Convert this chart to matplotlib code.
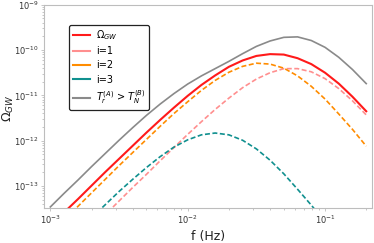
import numpy as np
import matplotlib
matplotlib.use("Agg")
import matplotlib.pyplot as plt
from matplotlib.lines import Line2D
from matplotlib.ticker import NullFormatter

# log10 frequency grid (Hz)
log_f = [-3.0, -2.9, -2.8, -2.7, -2.6, -2.5, -2.4, -2.3, -2.2, -2.1, -2.0, -1.9,
         -1.8, -1.7, -1.6, -1.5, -1.4, -1.3, -1.2, -1.1, -1.0, -0.9, -0.8, -0.7]

# log10 Omega_GW values
log_total = [-13.88, -13.58, -13.29, -12.99, -12.69, -12.40, -12.11, -11.82, -11.54, -11.27,
             -11.01, -10.77, -10.56, -10.37, -10.23, -10.13, -10.09, -10.10, -10.18, -10.31,
             -10.50, -10.74, -11.03, -11.35]
log_i1 = [-14.83, -14.53, -14.23, -13.93, -13.63, -13.33, -13.03, -12.74, -12.44, -12.15,
          -11.86, -11.58, -11.31, -11.06, -10.83, -10.64, -10.50, -10.41, -10.41, -10.48,
          -10.63, -10.85, -11.12, -11.43]
log_i2 = [-14.05, -13.75, -13.45, -13.15, -12.85, -12.55, -12.26, -11.97, -11.68, -11.40,
          -11.14, -10.89, -10.67, -10.49, -10.36, -10.29, -10.31, -10.40, -10.57, -10.80,
          -11.08, -11.41, -11.75, -12.12]
log_i3 = [-14.58, -14.29, -13.99, -13.70, -13.41, -13.12, -12.85, -12.59, -12.35, -12.14,
          -11.98, -11.87, -11.83, -11.87, -11.99, -12.18, -12.43, -12.73, -13.07, -13.42,
          -13.79, -14.17, -14.56, -14.96]
log_alt = [-13.46, -13.16, -12.87, -12.57, -12.28, -11.99, -11.71, -11.44, -11.19, -10.96,
           -10.75, -10.57, -10.41, -10.25, -10.08, -9.92, -9.80, -9.72, -9.71, -9.79,
           -9.94, -10.16, -10.43, -10.74]

labels = [r"$\Omega_{GW}$", "i=1", "i=2", "i=3", r"$T_r^{(A)}$ > $T_N^{(B)}$"]
colors = ["#ff1a1a", "#ff8f8f", "#ff8c00", "#10908f", "#8a8a8a"]

f = 10.0 ** np.array(log_f)

fig = plt.figure(figsize=(3.74, 2.43), dpi=100)
ax = fig.add_axes([0.1185, 0.1428, 0.8754, 0.8379])

ax.plot(f, 10.0 ** np.array(log_alt), color=colors[4], lw=1.2)
ax.plot(f, 10.0 ** np.array(log_total), color=colors[0], lw=1.5)
ax.plot(f, 10.0 ** np.array(log_i1), color=colors[1], lw=1.2, ls=(0, (3, 1.5)))
ax.plot(f, 10.0 ** np.array(log_i2), color=colors[2], lw=1.2, ls=(0, (3, 1.5)))
ax.plot(f, 10.0 ** np.array(log_i3), color=colors[3], lw=1.2, ls=(0, (3, 1.5)))

ax.set_xscale("log")
ax.set_yscale("log")
ax.set_xlim(10 ** -3.044, 10 ** -0.66)
ax.set_ylim(10 ** -13.49, 1e-9)
ax.xaxis.set_minor_formatter(NullFormatter())
ax.yaxis.set_minor_formatter(NullFormatter())

for sp in ax.spines.values():
    sp.set_color("#bdbdbd")
    sp.set_linewidth(0.8)
ax.tick_params(which="both", colors="#bdbdbd", labelcolor="#333333", labelsize=6,
               width=0.6, pad=1.5)
ax.tick_params(which="major", length=2.5)
ax.tick_params(which="minor", length=1.5)

ax.set_xlabel("f (Hz)", fontsize=9, color="#222222")
ax.xaxis.set_label_coords(0.5, -0.105)
ax.set_ylabel(r"$\Omega_{GW}$", fontsize=9, color="#222222")
ax.yaxis.set_label_coords(-0.086, 0.49)

handles = [Line2D([], [], color=c, lw=1.5) for c in colors]
leg = ax.legend(handles, labels, loc="upper left", bbox_to_anchor=(0.076, 0.90),
                borderaxespad=0, fontsize=7, frameon=True, fancybox=True,
                handlelength=1.8, handletextpad=0.6, labelspacing=0.42,
                borderpad=0.35)
leg.get_frame().set_edgecolor("#222222")
leg.get_frame().set_linewidth(0.9)
leg.get_frame().set_alpha(1)

fig.savefig("out.png", dpi=100)
